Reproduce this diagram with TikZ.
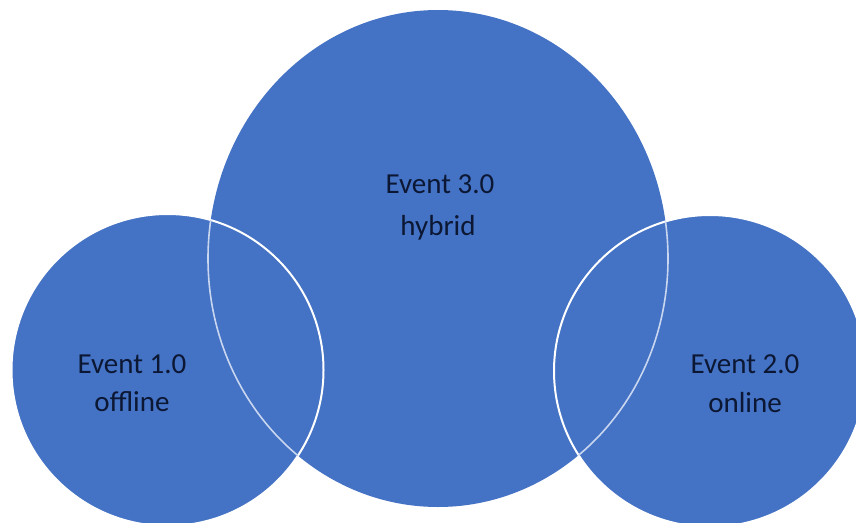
\documentclass[tikz,border=0pt]{standalone}
\usepackage{fontspec}
\setmainfont{Carlito}
\usetikzlibrary{shapes.geometric}
\definecolor{vblue}{HTML}{4472C4}
\definecolor{vtext}{HTML}{0C1733}
\definecolor{vline}{HTML}{C9D6F0}
\begin{document}
\begin{tikzpicture}[x=1pt,y=-1pt,
  bigc/.style={ellipse,inner sep=0pt,minimum width=460pt,minimum height=497pt},
  smallc/.style={circle,inner sep=0pt,minimum size=312pt},
  lbl/.style={anchor=base,text=vtext,inner sep=0pt,font=\fontsize{29}{33}\selectfont}]
\useasboundingbox (0,0) rectangle (856,522);
\clip (0,0) rectangle (856,522);
% filled shapes
\node[bigc,fill=vblue] (big) at (438,258.5) {};
\node[smallc,fill=vblue] (left) at (167.5,370) {};
\node[smallc,fill=vblue] (right) at (710,371) {};
% white outlines of the small circles
\node[smallc,draw=white,line width=2pt] (leftline) at (left.center) {};
\node[smallc,draw=white,line width=2pt] (rightline) at (right.center) {};
% light outline of the big circle, visible inside the small circles
\begin{scope}
  \clip (left.center) circle (156pt) (right.center) circle (156pt);
  \node[bigc,draw=vline,line width=1.6pt] (bigline) at (big.center) {};
\end{scope}
% labels
\node[lbl] (t3a) at (440,193) {Event 3.0};
\node[lbl] (t3b) at (438,235) {hybrid};
\node[lbl] (t1a) at (132,373) {Event 1.0};
\node[lbl] (t1b) at (132,411) {offline};
\node[lbl] (t2a) at (745,373) {Event 2.0};
\node[lbl] (t2b) at (745,412) {online};
\end{tikzpicture}
\end{document}
